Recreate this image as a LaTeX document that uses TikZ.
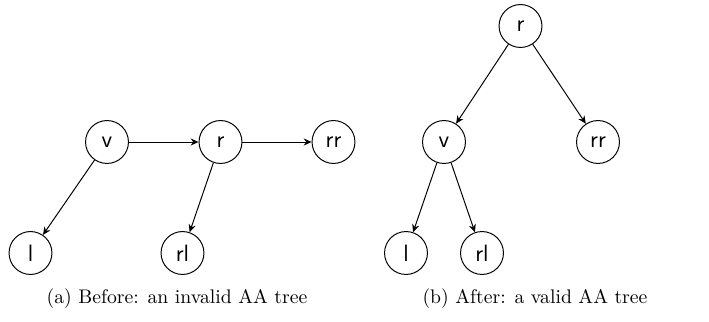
\documentclass[tikz,border=0pt]{standalone}
\usepackage{fontspec}
\usetikzlibrary{arrows.meta}
\begin{document}
\begin{tikzpicture}[x=0.508pt,y=-0.508pt,
  treenode/.style={circle,draw,line width=0.5pt,minimum size=21.8pt,inner sep=0pt,font=\large\sffamily},
  edge/.style={-{Stealth[length=4pt,width=3.6pt,inset=1.3pt]},line width=0.5pt},
  caption/.style={font=\normalsize\rmfamily,anchor=center}]
  \useasboundingbox (0,0) rectangle (709,322);

  % (a) before the split: v -> r -> rr is a chain of right horizontal links
  \node[treenode] (av)  at (107,142)   {v};
  \node[treenode] (ar)  at (220.5,142) {r};
  \node[treenode] (arr) at (333.5,142) {rr};
  \node[treenode] (al)  at (30.5,253)  {l};
  \node[treenode] (arl) at (182.5,253) {rl};
  \draw[edge] (av) -- (ar);
  \draw[edge] (ar) -- (arr);
  \draw[edge] (av) -- (al);
  \draw[edge] (ar) -- (arl);
  \node[caption] (capa) at (177,299) {(a) Before: an invalid AA tree};

  % (b) after the split: r promoted one level
  \node[treenode] (br)  at (520.5,26) {r};
  \node[treenode] (bv)  at (444,142)  {v};
  \node[treenode] (brr) at (598,142)  {rr};
  \node[treenode] (bl)  at (406,253)  {l};
  \node[treenode] (brl) at (482,253)  {rl};
  \draw[edge] (br) -- (bv);
  \draw[edge] (br) -- (brr);
  \draw[edge] (bv) -- (bl);
  \draw[edge] (bv) -- (brl);
  \node[caption] (capb) at (535,299) {(b) After: a valid AA tree};
\end{tikzpicture}
\end{document}
